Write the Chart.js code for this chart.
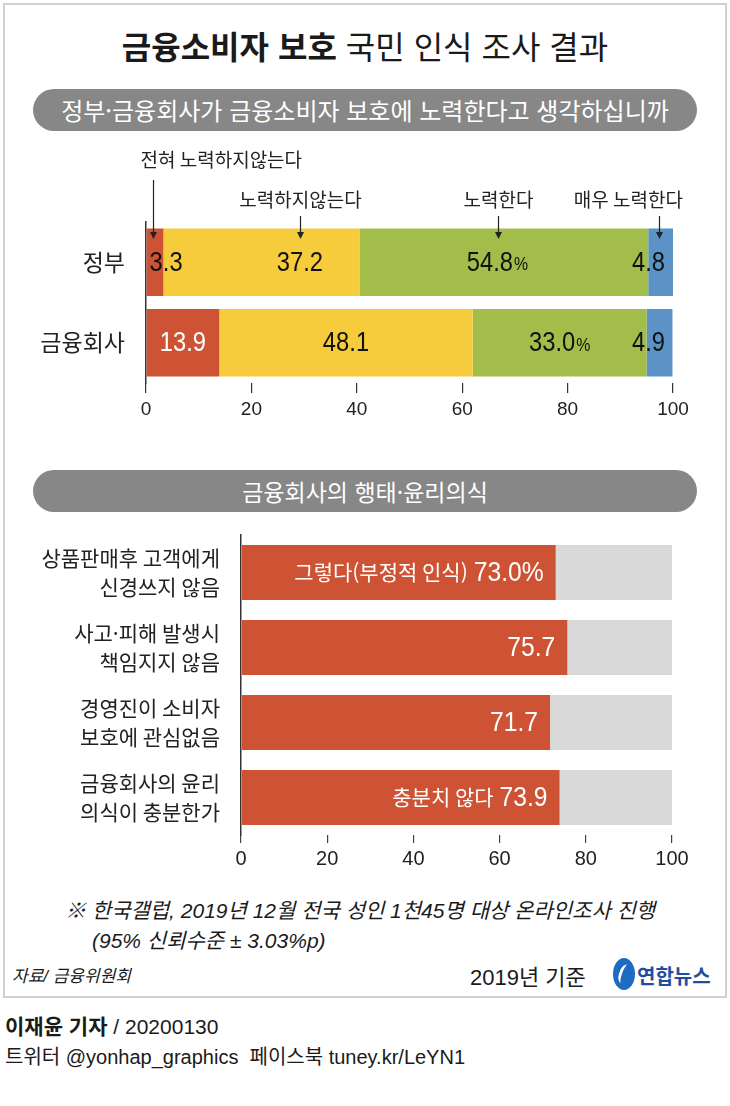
<!DOCTYPE html>
<html lang="ko">
<head>
<meta charset="utf-8">
<script src="https://cdn.jsdelivr.net/npm/chart.js@4.4.1/dist/chart.umd.min.js"></script>
<style>
  body { margin: 0; width: 730px; height: 1106px; background: #fff; position: relative; overflow: hidden;
         font-family: 'Liberation Sans', 'Noto Sans CJK KR', sans-serif; color: #1a1a1a; }
  .abs { position: absolute; white-space: nowrap; }
  #frame { position: absolute; left: 3px; top: 3px; width: 720px; height: 991px; border: 2px solid #d0d0d0; }
  .pill { position: absolute; left: 33px; width: 664px; height: 42px; border-radius: 21px; background: #878787;
          color: #fff; text-align: center; line-height: 42px; font-family: 'Noto Sans CJK KR', sans-serif; }
  canvas { position: absolute; left: 0; }
</style>
</head>
<body>
<div id="frame"></div>

<div class="abs" style="left:0;width:730px;top:21px;text-align:center;font-family:'Noto Sans CJK KR';font-size:32px;line-height:48px;">
  <b>금융소비자 보호</b> 국민 인식 조사 결과
</div>
<div class="pill" style="top:89px;font-size:24px;">정부·금융회사가 금융소비자 보호에 노력한다고 생각하십니까</div>

<canvas id="topChart" width="730" height="290" style="top:140px;width:730px;height:290px;"></canvas>

<div class="pill" style="top:470px;font-size:23px;">금융회사의 행태·윤리의식</div>

<canvas id="bottomChart" width="730" height="350" style="top:525px;width:730px;height:350px;"></canvas>

<div class="abs" style="left:65px;top:896px;font-size:21px;font-style:italic;line-height:30px;">
  ※ 한국갤럽, 2019년 12월 전국 성인 1천45명 대상 온라인조사 진행<br>
  <span style="padding-left:27px;">(95% 신뢰수준 ± 3.03%p)</span>
</div>
<div class="abs" style="left:12px;top:962px;font-size:17px;font-style:italic;">자료/ 금융위원회</div>
<div class="abs" style="left:470px;top:959px;font-size:22px;">2019년 기준</div>
<div class="abs" style="left:613px;top:958px;width:22px;height:32px;border-radius:50%;background:#1e6bc4;"></div>
<div class="abs" style="left:619px;top:964px;width:8px;height:20px;border-radius:50%;border-left:3px solid #fff;transform:rotate(20deg);"></div>
<div class="abs" style="left:637px;top:961px;font-size:20px;font-weight:bold;color:#1d4f9e;font-family:'Noto Sans CJK KR';">연합뉴스</div>

<div class="abs" style="left:5px;top:1010px;font-size:21px;"><b style="font-family:'Noto Sans CJK KR'">이재윤 기자</b> / 20200130</div>
<div class="abs" style="left:5px;top:1041px;font-size:20px;">트위터 @yonhap_graphics &nbsp;페이스북 tuney.kr/LeYN1</div>

<script>
// ---- data: 정부·금융회사 노력 인식 ----
const parties = ['정부', '금융회사'];
const answerNames = ['전혀 노력하지않는다', '노력하지않는다', '노력한다', '매우 노력한다'];
const notAtAll = [3.3, 13.9];
const notTrying = [37.2, 48.1];
const trying = [54.8, 33.0];
const tryingHard = [4.8, 4.9];
const answerColors = ['#CD5334', '#F6CB3C', '#A3BD4B', '#5B93C7'];
// where the little arrows point, in axis units
const arrowAt = [1.3, 29.2, 66.7, 97.4];

// ---- data: 금융회사의 행태·윤리의식 ----
const issues = [
  ['상품판매후 고객에게', '신경쓰지 않음'],
  ['사고·피해 발생시', '책임지지 않음'],
  ['경영진이 소비자', '보호에 관심없음'],
  ['금융회사의 윤리', '의식이 충분한가']
];
const negative = [73.0, 75.7, 71.7, 73.9];
const negativeText = ['그렇다(부정적 인식)', '', '', '충분치 않다'];
const fullScale = [100, 100, 100, 100];

const KR = "'Noto Sans CJK KR', sans-serif";
const NUM = "'Liberation Sans', 'Noto Sans CJK KR', sans-serif";
const SQUEEZE = 0.88;

// narrow-looking numbers: draw left aligned with a horizontal squeeze
function numWidth(ctx, text, size) {
  ctx.font = size + 'px ' + NUM;
  return ctx.measureText(text).width * SQUEEZE;
}
function drawNum(ctx, text, left, y, size) {
  ctx.save();
  ctx.font = size + 'px ' + NUM;
  ctx.textAlign = 'left';
  ctx.translate(left, y);
  ctx.scale(SQUEEZE, 1);
  ctx.fillText(text, 0, 0);
  ctx.restore();
}
// keep multi-line tick labels from pushing the plot area around
function noOverhang(axis) {
  axis.paddingTop = 0;
  axis.paddingBottom = 0;
}

// 1. stacked bar with arrows and labels
const topLabels = {
  id: 'topLabels',
  afterDatasetsDraw(chart) {
    const ctx = chart.ctx;
    const x = chart.scales.x;
    const area = chart.chartArea;
    ctx.save();
    ctx.fillStyle = '#222';
    ctx.strokeStyle = '#222';
    ctx.lineWidth = 1.2;
    ctx.font = '19px ' + KR;
    ctx.textBaseline = 'middle';

    // answer names + arrows
    arrowAt.forEach((v, i) => {
      const ax = Math.round(x.getPixelForValue(v)) + 0.5;
      const top = i === 0 ? 180 - 140 : 216 - 140;
      if (i === 0) {
        ctx.textAlign = 'left';
        ctx.fillText(answerNames[i], ax - 13, 160 - 140);
      } else if (i === 3) {
        ctx.textAlign = 'right';
        ctx.fillText(answerNames[i], area.right + 10, 200 - 140);
      } else {
        ctx.textAlign = 'center';
        ctx.fillText(answerNames[i], ax, 200 - 140);
      }
      const tip = area.top + 17;
      ctx.beginPath();
      ctx.moveTo(ax, top);
      ctx.lineTo(ax, tip - 6);
      ctx.stroke();
      ctx.beginPath();
      ctx.moveTo(ax - 3.5, tip - 7);
      ctx.lineTo(ax + 3.5, tip - 7);
      ctx.lineTo(ax, tip);
      ctx.closePath();
      ctx.fill();
    });

    // values on the bars
    chart.data.datasets.forEach((ds, i) => {
      const meta = chart.getDatasetMeta(i);
      meta.data.forEach((bar, j) => {
        const num = ds.data[j].toFixed(1);
        const pct = i === 2 ? '%' : '';
        const wNum = numWidth(ctx, num, 27);
        const wPct = pct ? numWidth(ctx, pct, 18) + 1 : 0;
        const w = wNum + wPct;
        const cx = j === 0 ? x.getPixelForValue(arrowAt[i]) : (bar.x + bar.base) / 2;
        let left = cx - w / 2;
        if (i === 0 && j === 0) left = bar.base + 3;
        if (left + w > area.right - 8) left = area.right - 8 - w;
        ctx.fillStyle = (i === 0 && j === 1) ? '#fff' : '#111';
        drawNum(ctx, num, left, bar.y + 1, 27);
        if (pct) drawNum(ctx, pct, left + wNum + 1, bar.y + 3, 18);
      });
    });
    ctx.restore();
  }
};

const topData = {
  labels: parties,
  datasets: [notAtAll, notTrying, trying, tryingHard].map((d, i) => ({
    label: answerNames[i],
    data: d,
    backgroundColor: answerColors[i],
    borderWidth: 0,
    barPercentage: 1,
    categoryPercentage: 0.84
  }))
};

const topChart = new Chart(document.getElementById('topChart'), {
  type: 'bar',
  data: topData,
  options: {
    indexAxis: 'y',
    responsive: false,
    animation: false,
    layout: { padding: { top: 82, right: 57, left: 0, bottom: 0 } },
    plugins: { legend: { display: false }, tooltip: { enabled: false } },
    scales: {
      x: {
        stacked: true, min: 0, max: 100,
        afterFit: (axis) => { axis.height = 47; },
        ticks: { stepSize: 20, color: '#222', font: { size: 19, family: NUM }, padding: 5, maxRotation: 0 },
        grid: { drawOnChartArea: false, tickLength: 10, color: '#333', lineWidth: 1.2 },
        border: { display: false }
      },
      y: {
        stacked: true,
        afterFit: (axis) => { axis.width = 146; noOverhang(axis); },
        ticks: { color: '#222', font: { size: 23, family: KR }, padding: 13 },
        grid: { display: false },
        border: { display: true, color: '#333', width: 1.5 }
      }
    }
  },
  plugins: [topLabels]
});

// 2. negative perception bars over a grey 100% track
const bottomLabels = {
  id: 'bottomLabels',
  afterDatasetsDraw(chart) {
    const ctx = chart.ctx;
    const meta = chart.getDatasetMeta(0);
    ctx.save();
    ctx.fillStyle = '#fff';
    ctx.textBaseline = 'middle';
    meta.data.forEach((bar, j) => {
      const num = negative[j].toFixed(1) + (j === 0 ? '%' : '');
      const right = bar.x - 12;
      const w = numWidth(ctx, num, 28);
      drawNum(ctx, num, right - w, bar.y + 1, 28);
      if (negativeText[j]) {
        ctx.font = '21px ' + KR;
        ctx.textAlign = 'right';
        ctx.fillText(negativeText[j], right - w - 6, bar.y);
      }
    });
    ctx.restore();
  }
};

const bottomChart = new Chart(document.getElementById('bottomChart'), {
  type: 'bar',
  data: {
    labels: issues,
    datasets: [
      { label: '부정적 인식', data: negative, backgroundColor: '#CD5334', order: 0 },
      { label: '전체', data: fullScale, backgroundColor: '#D9D9D9', order: 1 }
    ]
  },
  options: {
    indexAxis: 'y',
    responsive: false,
    animation: false,
    grouped: false,
    datasets: { bar: { barPercentage: 1, categoryPercentage: 0.733, borderWidth: 0 } },
    layout: { padding: { top: 10, right: 58, left: 0, bottom: 0 } },
    plugins: { legend: { display: false }, tooltip: { enabled: false } },
    scales: {
      x: {
        min: 0, max: 100,
        afterFit: (axis) => { axis.height = 40; },
        ticks: { stepSize: 20, color: '#222', font: { size: 20, family: NUM }, padding: 4, maxRotation: 0 },
        grid: { drawOnChartArea: false, tickLength: 8, color: '#444', lineWidth: 1.2 },
        border: { display: false }
      },
      y: {
        afterFit: (axis) => { axis.width = 241; noOverhang(axis); },
        ticks: { color: '#222', font: { size: 21, family: KR, lineHeight: 1.35 }, padding: 13 },
        grid: { display: false },
        border: { display: true, color: '#333', width: 1.5 }
      }
    }
  },
  plugins: [bottomLabels]
});
</script>
</body>
</html>
